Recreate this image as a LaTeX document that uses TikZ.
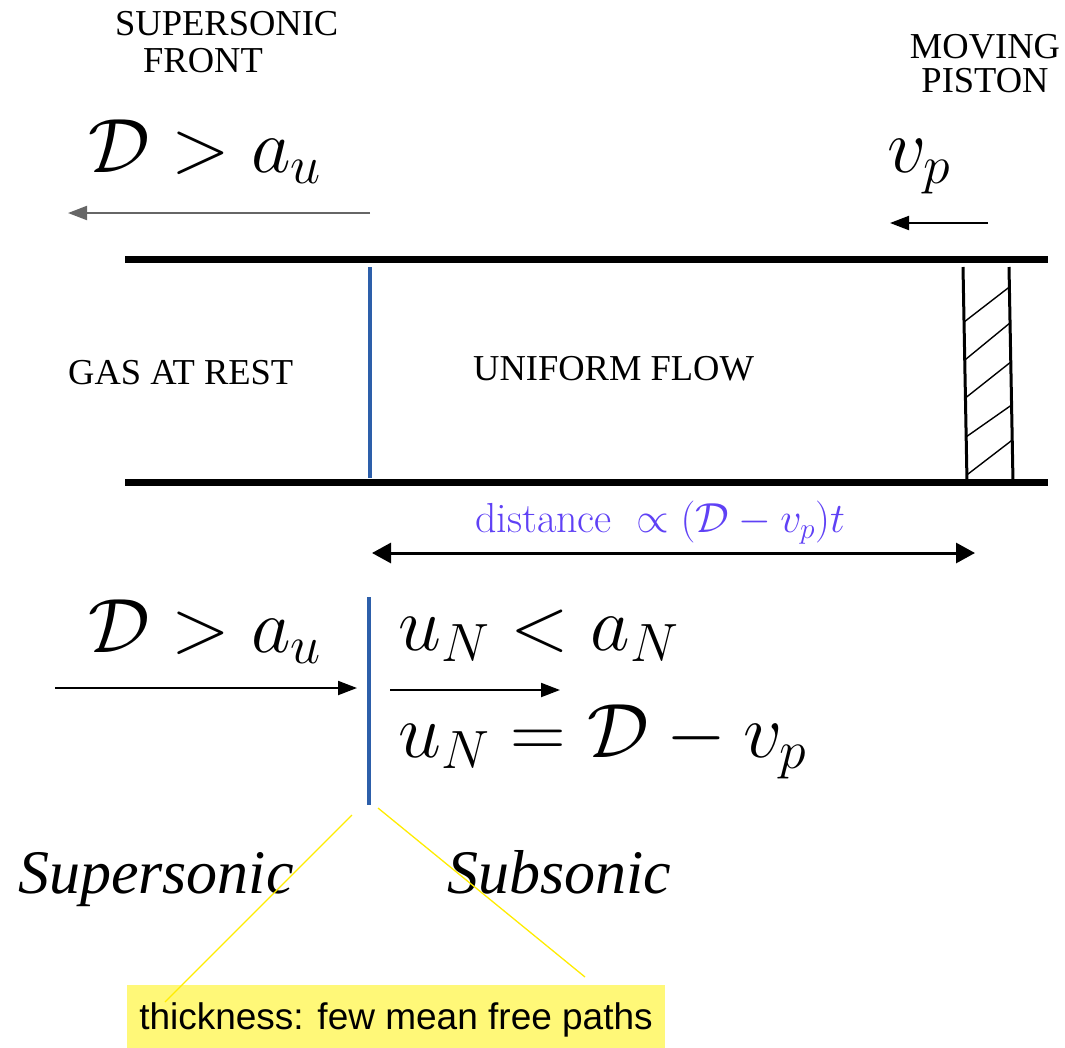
\RequirePackage{fix-cm}
\documentclass[tikz,border=0pt]{standalone}
\usepackage{fontspec}
\newfontfamily\capsfont{Liberation Serif}
\newfontfamily\notefont{Liberation Sans}
\usetikzlibrary{arrows.meta,calc}
\definecolor{frontblue}{RGB}{45,95,170}
\definecolor{distviolet}{RGB}{95,65,245}
\definecolor{notefill}{RGB}{255,248,120}
\definecolor{noteline}{RGB}{255,236,0}

\begin{document}
\begin{tikzpicture}[x=1pt,y=-1pt,>={Triangle[length=19pt,width=14pt]},line cap=butt,
  wall/.style={line width=7pt},
  front/.style={line width=3.5pt,draw=frontblue},
  pistonside/.style={line width=3pt},
  hatch/.style={line width=1.4pt},
  flow/.style={->,line width=2pt},
  caps/.style={font=\capsfont\fontsize{36.5}{37}\selectfont,inner sep=0pt,anchor=base west},
  bigmath/.style={font=\fontsize{77}{82}\selectfont,inner sep=0pt,anchor=base west},
  regime/.style={font=\capsfont\itshape\fontsize{62}{66}\selectfont,inner sep=0pt,anchor=base west},
  pointer/.style={line width=1.3pt,draw=noteline}]
\useasboundingbox (0,0) rectangle (1065,1047);
\coordinate (wl1) at (125,259);
\coordinate (wr1) at (1048,259);
\coordinate (wl2) at (125,482);
\coordinate (wr2) at (1048,482);
\coordinate (ft1) at (370,267);
\coordinate (ft2) at (370,478);
\coordinate (pl1) at (963,267);
\coordinate (pl2) at (967,482);
\coordinate (pr1) at (1009,267);
\coordinate (pr2) at (1013,482);
\coordinate (ua1) at (370,213);
\coordinate (ua2) at (68,213);
\coordinate (pa1) at (988,223);
\coordinate (pa2) at (890,223);
\coordinate (dl) at (372,553);
\coordinate (dr) at (975,553);
\coordinate (fb1) at (369,597);
\coordinate (fb2) at (369,805);
\coordinate (ba1) at (55,688);
\coordinate (ba2) at (357,688);
\coordinate (bb1) at (390,690);
\coordinate (bb2) at (560,690);
\coordinate (pA) at (352,815);
\coordinate (pB) at (378,808);
\coordinate (nA) at (165,1002);
\coordinate (nB) at (585,977);
\node[caps] (sonic) at (115,35) {SUPERSONIC};
\node[caps] (front) at (143,72) {FRONT};
\node[caps,anchor=base] (moving) at (985,58) {MOVING};
\node[caps,anchor=base] (piston) at (985,92) {PISTON};
\node[bigmath] (dtop) at (88,172) {$\mathcal{D}>a_u$};
\node[bigmath] (vp) at (887,172) {$v_p$};
\draw[flow,draw=black!60] (ua1) -- (ua2);
\draw[flow] (pa1) -- (pa2);
\draw[wall] (wl1) -- (wr1);
\draw[wall] (wl2) -- (wr2);
\draw[front] (ft1) -- (ft2);
\draw[pistonside] (pl1) -- (pl2);
\draw[pistonside] (pr1) -- (pr2);
\foreach \a/\b in {.256/.093,.433/.26,.609/.442,.79/.642,.967/.805}
  \draw[hatch] ($(pl1)!\a!(pl2)$) -- ($(pr1)!\b!(pr2)$);
\node[caps] (rest) at (68,384) {GAS AT REST};
\node[caps] (uniform) at (473,380) {UNIFORM FLOW};
\node[font=\fontsize{42}{46}\selectfont,text=distviolet,inner sep=0pt,anchor=base] (dist) at (660,532) {$\mathrm{distance}\ \propto(\mathcal{D}-v_p)t$};
\draw[<->,line width=3pt,>={Triangle[length=19pt,width=20pt]}] (dl) -- (dr);
\draw[front] (fb1) -- (fb2);
\node[bigmath] (dbot) at (88,652) {$\mathcal{D}>a_u$};
\node[bigmath] (uless) at (398,650) {$u_N<a_N$};
\node[bigmath] (ueq) at (398,757) {$u_N=\mathcal{D}-v_p$};
\draw[flow] (ba1) -- (ba2);
\draw[flow] (bb1) -- (bb2);
\node[regime] (super) at (18,893) {Supersonic};
\node[regime] (sub) at (447,893) {Subsonic};
\node[fill=notefill,minimum width=538pt,minimum height=70pt,inner sep=0pt,font=\notefont\fontsize{37}{40}\selectfont] (note) at (396,1020) {thickness: few mean free paths};
\draw[pointer] (pA) -- (nA);
\draw[pointer] (pB) -- (nB);
\end{tikzpicture}
\end{document}
